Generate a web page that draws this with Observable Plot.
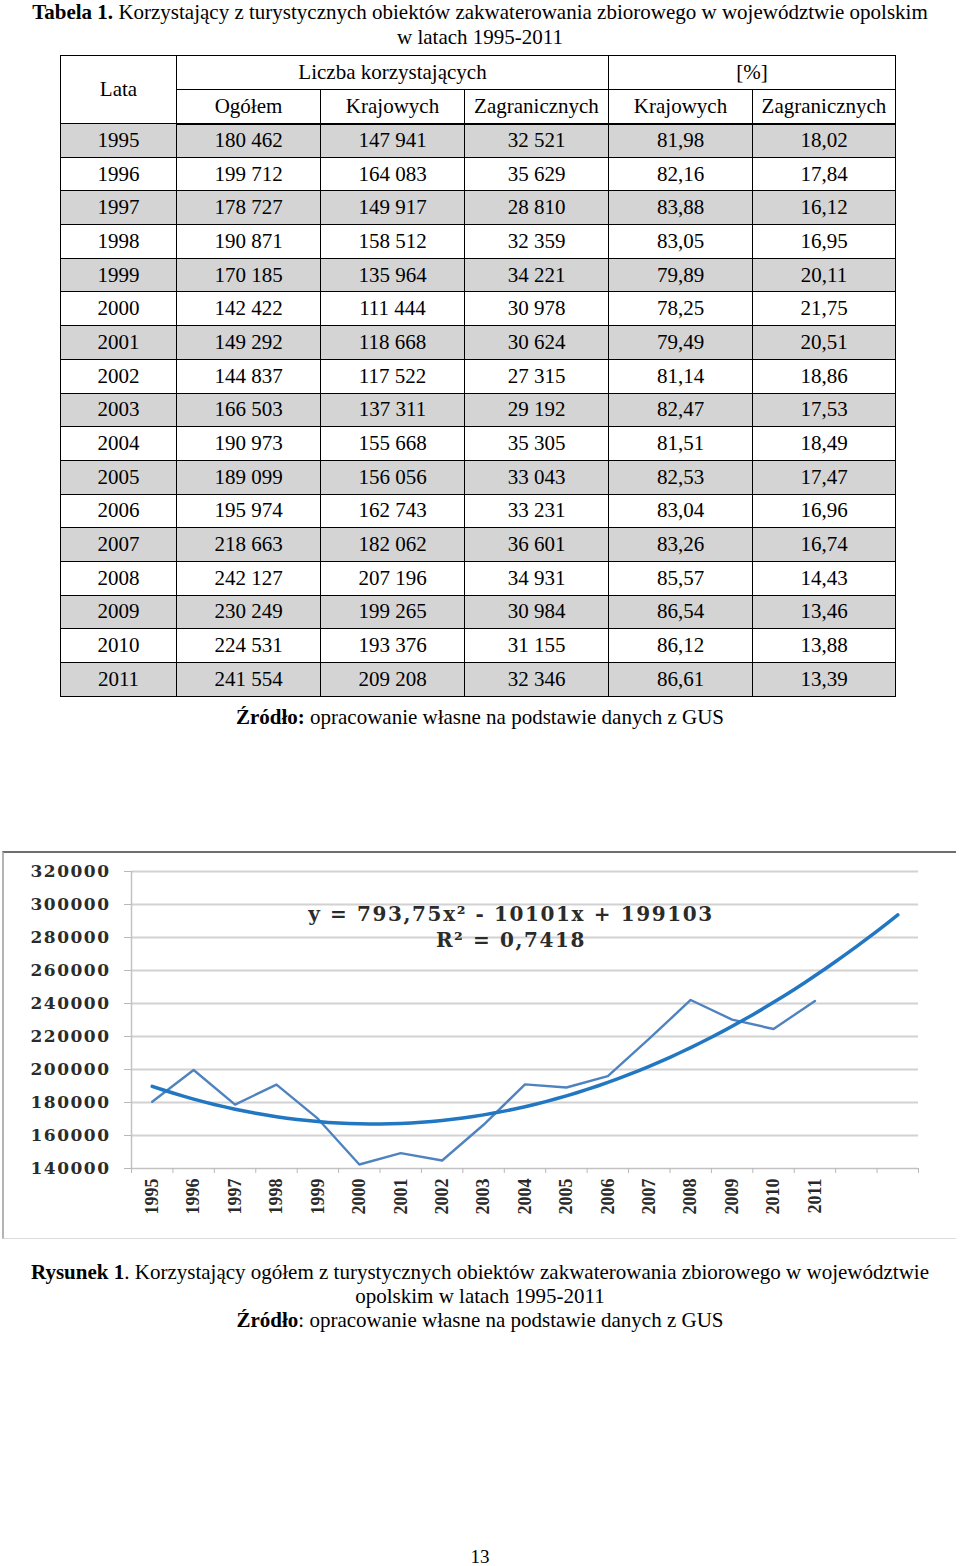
<!DOCTYPE html>
<html><head><meta charset="utf-8">
<script src="https://cdn.jsdelivr.net/npm/d3@7"></script>
<script src="https://cdn.jsdelivr.net/npm/@observablehq/plot@0.6"></script>
<style>
body{margin:0;width:960px;height:1566px;position:relative;background:#fff;font-family:"Liberation Serif","Times New Roman",serif;color:#000;overflow:hidden;}
.block{position:absolute;left:0;width:960px;text-align:center;font-size:21px;line-height:25px;}
#tbl{position:absolute;left:60px;top:55px;border-collapse:collapse;table-layout:fixed;font-size:21px;font-family:"Liberation Serif",serif;}
#tbl td,#tbl th{border:1px solid #000;text-align:center;padding:0;font-weight:normal;}
#tbl thead tr{height:34px;}
#tbl tbody tr{height:33.7px;}
#tbl thead tr:last-child th{border-bottom:2px solid #000;}
#tbl tbody tr.g td{background:#d4d4d4;}
#chartbox{position:absolute;left:2px;top:851px;width:952px;height:385px;border-top:2px solid #6e6e6e;border-left:2px solid #b4b4b4;border-bottom:1px solid #dcdcdc;}
#chartbox svg{display:block;}
</style>
</head><body>
<div class="block" style="top:0"><b>Tabela 1.</b> Korzystający z turystycznych obiektów zakwaterowania zbiorowego w województwie opolskim<br>w latach 1995-2011</div>
<table id="tbl"></table>
<div class="block" style="top:705px"><b>Źródło:</b> opracowanie własne na podstawie danych z GUS</div>
<div id="chartbox"></div>
<div class="block" style="top:1260px;line-height:24px"><b>Rysunek 1</b>. Korzystający ogółem z turystycznych obiektów zakwaterowania zbiorowego w województwie<br>opolskim w latach 1995-2011<br><b>Źródło</b>: opracowanie własne na podstawie danych z GUS</div>
<div class="block" style="top:1545px;font-size:19px;line-height:24px">13</div>
<script>
const years = [1995,1996,1997,1998,1999,2000,2001,2002,2003,2004,2005,2006,2007,2008,2009,2010,2011];
const ogolem = [180462,199712,178727,190871,170185,142422,149292,144837,166503,190973,189099,195974,218663,242127,230249,224531,241554];
const krajowych = [147941,164083,149917,158512,135964,111444,118668,117522,137311,155668,156056,162743,182062,207196,199265,193376,209208];
const zagranicznych = [32521,35629,28810,32359,34221,30978,30624,27315,29192,35305,33043,33231,36601,34931,30984,31155,32346];
const procKrajowych = [81.98,82.16,83.88,83.05,79.89,78.25,79.49,81.14,82.47,81.51,82.53,83.04,83.26,85.57,86.54,86.12,86.61];
const procZagranicznych = [18.02,17.84,16.12,16.95,20.11,21.75,20.51,18.86,17.53,18.49,17.47,16.96,16.74,14.43,13.46,13.88,13.39];
const yTicks = [140000,160000,180000,200000,220000,240000,260000,280000,300000,320000];
const trendCoef = [793.75, -10101, 199103]; // y = a x^2 + b x + c
const forecastPeriods = 2;
const eqLine1 = "y = 793,75x² - 10101x + 199103";
const eqLine2 = "R² = 0,7418";

// ---- table ----
const fmtInt = n => String(n).replace(/\B(?=(\d{3})+(?!\d))/g, " ");
const fmtPct = n => n.toFixed(2).replace(".", ",");
const colW = [116,144,144,144,144,143];
let html = "<colgroup>" + colW.map(w => `<col style="width:${w}px">`).join("") + "</colgroup>";
html += `<thead><tr><th rowspan="2">Lata</th><th colspan="3">Liczba korzystających</th><th colspan="2">[%]</th></tr>`;
html += `<tr><th>Ogółem</th><th>Krajowych</th><th>Zagranicznych</th><th>Krajowych</th><th>Zagranicznych</th></tr></thead><tbody>`;
years.forEach((y, i) => {
  html += `<tr class="${i % 2 === 0 ? "g" : ""}"><td>${y}</td><td>${fmtInt(ogolem[i])}</td><td>${fmtInt(krajowych[i])}</td><td>${fmtInt(zagranicznych[i])}</td><td>${fmtPct(procKrajowych[i])}</td><td>${fmtPct(procZagranicznych[i])}</td></tr>`;
});
html += "</tbody>";
document.getElementById("tbl").innerHTML = html;

// ---- chart ----
const data = years.map((yr, i) => ({x: i + 1, y: ogolem[i]}));
const nCat = years.length + forecastPeriods;
const trend = d3.range(1, nCat + 0.001, 0.25).map(x => ({x, y: trendCoef[0]*x*x + trendCoef[1]*x + trendCoef[2]}));
const bounds = d3.range(0, nCat + 1).map(k => k + 0.5);
const positions = years.map((_, i) => i + 1);

const chart = Plot.plot({
  width: 952, height: 385,
  marginLeft: 127, marginRight: 38, marginTop: 18, marginBottom: 70,
  x: {domain: [0.5, nCat + 0.5]},
  y: {domain: [yTicks[0], yTicks[yTicks.length - 1]]},
  style: {background: "transparent", overflow: "visible"},
  marks: [
    Plot.ruleY(yTicks.slice(1), {stroke: "#d2d2d2", strokeWidth: 2.2}),
    Plot.ruleY([yTicks[0]], {stroke: "#c2c2c2", strokeWidth: 1.5}),
    Plot.ruleX([0.5], {stroke: "#c2c2c2", strokeWidth: 1.5}),
    Plot.axisY({ticks: yTicks, tickFormat: d => String(d), tickSize: 7, tickPadding: 14, stroke: "#b8b8b8", fill: "#2b2b2b", fontFamily: "DejaVu Serif", fontWeight: "bold", fontSize: 17, label: null}),
    Plot.axisX({ticks: bounds, tickFormat: () => "", tickSize: 5, stroke: "#b8b8b8", label: null}),
    Plot.axisX({ticks: positions, tickFormat: i => String(years[i - 1]), tickSize: 0, tickPadding: 10, tickRotate: -90, fontFamily: "Liberation Serif", fontWeight: "bold", fontSize: 18, fill: "#2a2a2a", label: null}),
    Plot.line(data, {x: "x", y: "y", stroke: "#4f83c0", strokeWidth: 2.4}),
    Plot.line(trend, {x: "x", y: "y", stroke: "#2177c1", strokeWidth: 3.5}),
    Plot.text([eqLine1], {frameAnchor: "top", dx: -14, dy: 35, fontFamily: "DejaVu Serif", fontWeight: "bold", fontSize: 20, fill: "#2b2b2b"}),
    Plot.text([eqLine2], {frameAnchor: "top", dx: -14, dy: 61, fontFamily: "DejaVu Serif", fontWeight: "bold", fontSize: 20, fill: "#2b2b2b"})
  ]
});
document.getElementById("chartbox").appendChild(chart);
d3.select(chart).selectAll('g[aria-label="y-axis tick label"] text').attr("letter-spacing", "1.5");
d3.select(chart).selectAll('g[aria-label="text"] text').attr("letter-spacing", "1.6");
</script>
</body></html>
